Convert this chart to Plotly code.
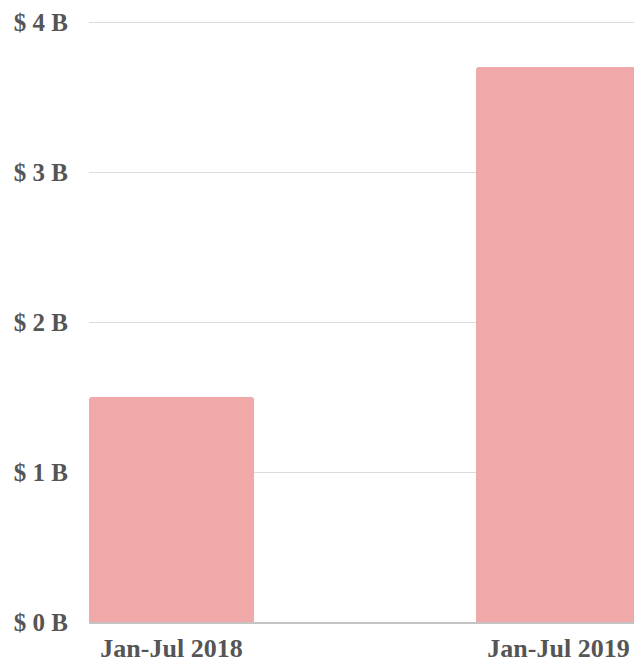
import plotly.graph_objects as go

categories = ["Jan-Jul 2018", "Jan-Jul 2019"]
values_billion = [1.5, 3.7]
tick_values = [0, 1, 2, 3, 4]
tick_labels = ["$ 0 B", "$ 1 B", "$ 2 B", "$ 3 B", "$ 4 B"]

bar_color = "#F0A9A8"
text_color = "#555555"
font_family = "Liberation Serif, Times New Roman, serif"

fig = go.Figure(
    go.Bar(
        x=[0, 1],
        y=values_billion,
        width=0.4264,
        marker=dict(color=bar_color, line=dict(width=0), cornerradius=3),
        hoverinfo="skip",
    )
)

fig.update_layout(
    width=634,
    height=666,
    margin=dict(l=89, r=0, t=19, b=44),
    paper_bgcolor="white",
    plot_bgcolor="white",
    showlegend=False,
    font=dict(family=font_family, color=text_color),
    xaxis=dict(
        range=[-0.2132, 1.195],
        tickmode="array",
        tickvals=[0, 1],
        ticktext=categories,
        tickfont=dict(size=26, family=font_family, color=text_color, weight="bold"),
        showgrid=False,
        showline=True,
        linecolor="#c4c4c4",
        linewidth=1.5,
        ticks="",
        ticklabelstandoff=2,
        fixedrange=True,
    ),
    yaxis=dict(
        range=[0, 4.02],
        tickmode="array",
        tickvals=tick_values,
        ticktext=tick_labels,
        tickfont=dict(size=25, family=font_family, color=text_color, weight="bold"),
        showgrid=True,
        gridcolor="#dcdcdc",
        gridwidth=1,
        zeroline=False,
        showline=False,
        ticks="",
        ticklabelstandoff=20,
        fixedrange=True,
    ),
)

fig.write_html(
    "out.html",
    config={"displayModeBar": False},
    post_script="document.body.style.margin='0';document.body.style.overflow='hidden';",
)
